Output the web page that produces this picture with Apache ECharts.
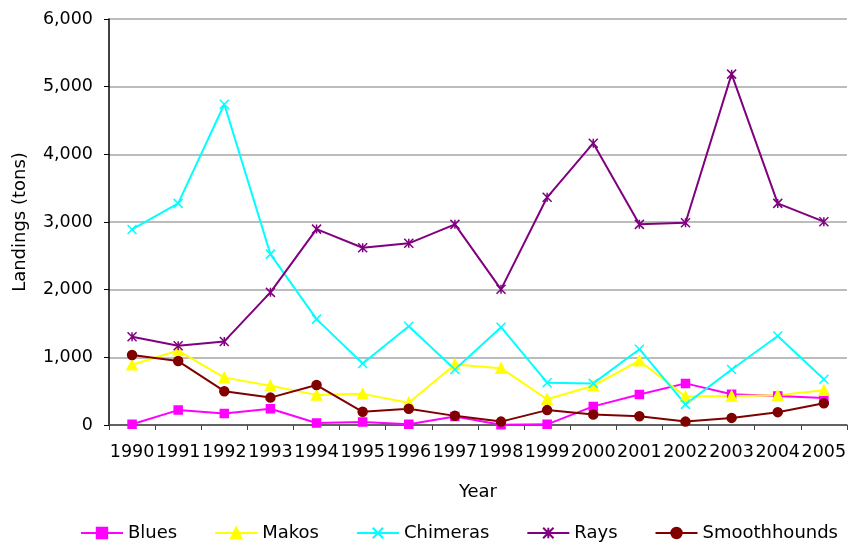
<!DOCTYPE html>
<html>
<head>
<meta charset="utf-8">
<script src="https://cdn.jsdelivr.net/npm/echarts@6/dist/echarts.min.js"></script>
<style>
  html, body { margin: 0; padding: 0; background: #fff; }
  #main { width: 849px; height: 544px; }
</style>
</head>
<body>
<div id="main"></div>
<script>
// data (tons)
var years = ["1990", "1991", "1992", "1993", "1994", "1995", "1996", "1997",
             "1998", "1999", "2000", "2001", "2002", "2003", "2004", "2005"];
var blues = [10, 220, 170, 240, 30, 45, 10, 125, 5, 10, 275, 450, 615, 455, 430, 400];
var makos = [890, 1100, 700, 580, 445, 460, 330, 895, 840, 380, 580, 950, 420, 430, 440, 515];
var chimeras = [2890, 3275, 4740, 2525, 1565, 910, 1460, 820, 1445, 625, 615, 1120, 305, 820, 1315, 675];
var rays = [1305, 1170, 1235, 1960, 2895, 2620, 2685, 2965, 2005, 3365, 4165, 2965, 2990, 5185, 3275, 3005];
var smoothhounds = [1035, 945, 500, 405, 590, 195, 240, 135, 50, 220, 155, 130, 50, 105, 190, 320];

var FONT = "DejaVu Sans";
var crossSym = "path://M0,0L10,10M10,0L0,10";
var starSym = "path://M0,0L10,10M10,0L0,10M5,0L5,10";

function makeSeries(name, data, color, symbol, size) {
  return {
    name: name,
    type: "line",
    data: data,
    symbol: symbol,
    symbolSize: size,
    showAllSymbol: true,
    lineStyle: { color: color, width: 2 },
    itemStyle: { color: color, borderColor: color, borderWidth: 1.5 }
  };
}

var chart = echarts.init(document.getElementById("main"));
chart.setOption({
  animation: false,
  backgroundColor: "#fff",
  textStyle: { fontFamily: FONT, color: "#000" },
  grid: { left: 109, right: -2, top: 19, bottom: 119 },
  legend: {
    left: 80,
    top: 524,
    padding: 0,
    itemWidth: 42,
    itemHeight: 13,
    itemGap: 37,
    textStyle: { fontFamily: FONT, fontSize: 18, color: "#000" },
    data: ["Blues", "Makos", "Chimeras", "Rays", "Smoothhounds"]
  },
  xAxis: {
    type: "category",
    data: years,
    boundaryGap: true,
    name: "Year",
    nameLocation: "middle",
    nameGap: 58,
    nameTextStyle: { fontFamily: FONT, fontSize: 18, color: "#000" },
    axisLine: { lineStyle: { color: "#444", width: 1.5 } },
    axisTick: { show: true, length: 5, lineStyle: { color: "#444" } },
    axisLabel: { fontFamily: FONT, fontSize: 17.5, color: "#000", margin: 18, interval: 0 },
    splitLine: { show: false }
  },
  yAxis: {
    type: "value",
    min: 0,
    max: 6000,
    interval: 1000,
    name: "Landings (tons)",
    nameLocation: "middle",
    nameGap: 80,
    nameTextStyle: { fontFamily: FONT, fontSize: 18, color: "#000" },
    axisLine: { show: true, lineStyle: { color: "#000", width: 1.5 } },
    axisTick: { show: true, length: 5, lineStyle: { color: "#000" } },
    axisLabel: {
      fontFamily: FONT, fontSize: 17.5, color: "#000", margin: 16,
      formatter: function (v) { return v.toLocaleString("en-US"); }
    },
    splitLine: { show: true, lineStyle: { color: "#a6a6a6", width: 1.5 } }
  },
  series: [
    makeSeries("Blues", blues, "#ff00ff", "rect", 8),
    makeSeries("Makos", makos, "#ffff00", "triangle", 10),
    makeSeries("Chimeras", chimeras, "#00ffff", crossSym, 9),
    makeSeries("Rays", rays, "#800080", starSym, 9),
    makeSeries("Smoothhounds", smoothhounds, "#800000", "circle", 9)
  ]
});
</script>
</body>
</html>
